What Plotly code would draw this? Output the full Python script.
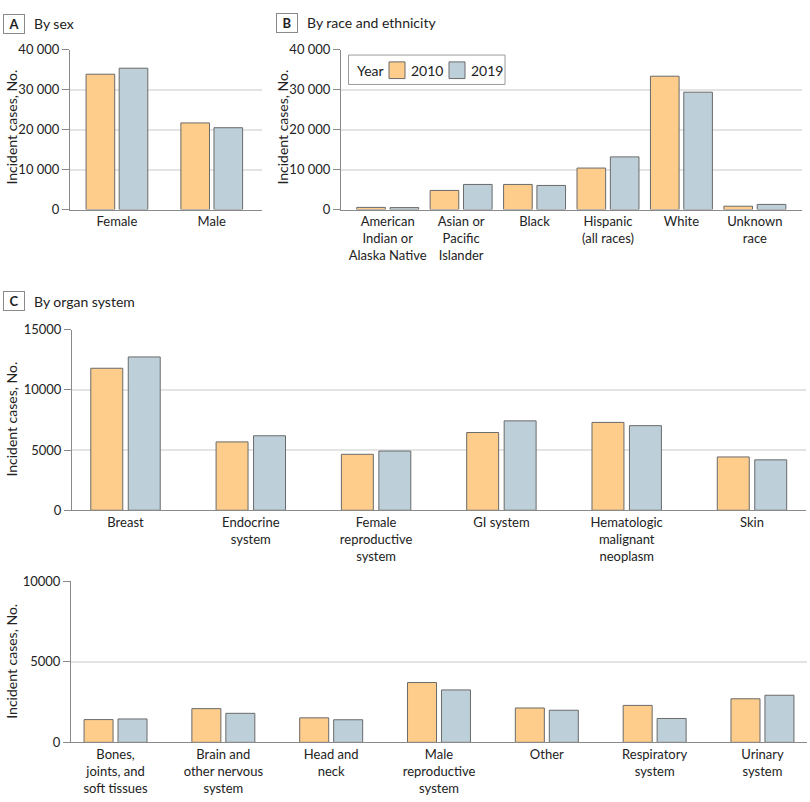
import plotly.graph_objects as go

# ---------------- data ----------------
years = ["2010", "2019"]

sex_categories = ["Female", "Male"]
sex_2010 = [33900, 21700]
sex_2019 = [35400, 20500]

race_categories = ["American<br>Indian or<br>Alaska Native", "Asian or<br>Pacific<br>Islander", "Black",
                   "Hispanic<br>(all races)", "White", "Unknown<br>race"]
race_2010 = [550, 4800, 6300, 10400, 33400, 850]
race_2019 = [500, 6300, 6050, 13200, 29400, 1300]

organ1_categories = ["Breast", "Endocrine<br>system", "Female<br>reproductive<br>system", "GI system",
                     "Hematologic<br>malignant<br>neoplasm", "Skin"]
organ1_2010 = [11800, 5680, 4650, 6460, 7300, 4430]
organ1_2019 = [12740, 6190, 4920, 7430, 7030, 4190]

organ2_categories = ["Bones,<br>joints, and<br>soft tissues", "Brain and<br>other nervous<br>system", "Head and<br>neck",
                     "Male<br>reproductive<br>system", "Other", "Respiratory<br>system", "Urinary<br>system"]
organ2_2010 = [1410, 2090, 1520, 3710, 2130, 2290, 2700]
organ2_2019 = [1450, 1800, 1400, 3250, 1990, 1480, 2920]

ab_tickvals = [0, 10000, 20000, 30000, 40000]
ab_ticktext = ["0", "10 000", "20 000", "30 000", "40 000"]
c_tickvals = [0, 5000, 10000, 15000]
c_ticktext = ["0", "5000", "10000", "15000"]
d_tickvals = [0, 5000, 10000]
d_ticktext = ["0", "5000", "10000"]

# ---------------- style ----------------
FONT = "Lato, 'Noto Sans', sans-serif"
C2010 = "#FECD8C"
C2019 = "#BDD0DA"
OUTLINE = "#6A6A6A"
GRID = "#E4E4E4"
AXIS = "#8A8A8A"
TXT = "#222222"
W, H = 810, 802


def px_x(p):
    return p / W


def px_y(p):
    return 1 - p / H


fig = go.Figure()

panels = [
    # (x categories, v2010, v2019, axis suffix, bar width, gap)
    (sex_categories, sex_2010, sex_2019, "", 0.302, 0.047),
    (race_categories, race_2010, race_2019, "2", 0.39, 0.064),
    (organ1_categories, organ1_2010, organ1_2019, "3", 0.255, 0.044),
    (organ2_categories, organ2_2010, organ2_2019, "4", 0.269, 0.046),
]

for cats, v10, v19, sfx, bw, gap in panels:
    for yr, vals, col, off in [("2010", v10, C2010, -(bw + gap / 2)), ("2019", v19, C2019, gap / 2)]:
        fig.add_trace(go.Bar(
            x=cats, y=vals, name=yr, legendgroup=yr, showlegend=False,
            marker=dict(color=col, line=dict(color=OUTLINE, width=1)),
            width=bw, offset=off,
            xaxis="x" + sfx, yaxis="y" + sfx,
        ))

common_x = dict(type="category", showgrid=False, showline=True, linecolor=AXIS, linewidth=1,
                ticks="", tickfont=dict(family=FONT, size=13, color=TXT), fixedrange=True)
common_y = dict(showgrid=True, gridcolor=GRID, gridwidth=1.5, showline=True, linecolor=AXIS, linewidth=1,
                ticks="outside", ticklen=7, tickcolor=AXIS, zeroline=False,
                tickfont=dict(family=FONT, size=13, color=TXT), fixedrange=True)

fig.update_layout(
    width=W, height=H,
    margin=dict(l=0, r=0, t=0, b=0),
    paper_bgcolor="white", plot_bgcolor="white",
    barmode="group", showlegend=False,
    font=dict(family=FONT, size=13, color=TXT),
    xaxis=dict(common_x, domain=[px_x(70), px_x(262)], range=[-0.495, 1.53], anchor="y"),
    yaxis=dict(common_y, domain=[px_y(205.7), px_y(42.7)], range=[0, 40000],
               tickvals=ab_tickvals, ticktext=ab_ticktext, anchor="x"),
    xaxis2=dict(common_x, domain=[px_x(341), px_x(802)], range=[-0.636, 5.642], anchor="y2"),
    yaxis2=dict(common_y, domain=[px_y(205.7), px_y(42.7)], range=[0, 40000],
                tickvals=ab_tickvals, ticktext=ab_ticktext, anchor="x2"),
    xaxis3=dict(common_x, domain=[px_x(72), px_x(806)], range=[-0.427, 5.431], anchor="y3"),
    yaxis3=dict(common_y, domain=[px_y(512.5), px_y(328.3)], range=[0, 15000],
                tickvals=c_tickvals, ticktext=c_ticktext, anchor="x3"),
    xaxis4=dict(common_x, domain=[px_x(71), px_x(807)], range=[-0.413, 6.413], anchor="y4"),
    yaxis4=dict(common_y, domain=[px_y(749.3), px_y(584.7)], range=[0, 10000],
                tickvals=d_tickvals, ticktext=d_ticktext, anchor="x4"),
)

annotations = []
shapes = []
# panel labels
for letter, title, bx, ty in [("A", "By sex", 14, 16), ("B", "By race and ethnicity", 287, 15),
                              ("C", "By organ system", 14, 299)]:
    annotations.append(dict(text="<b>" + letter + "</b>", x=px_x(bx), y=px_y(ty), xref="paper", yref="paper",
                            showarrow=False, font=dict(family=FONT, size=13, color=TXT),
                            bordercolor="#8A8A8A", borderwidth=1, borderpad=2, bgcolor="white",
                            width=16, height=14, xanchor="center", yanchor="middle"))
    annotations.append(dict(text=title, x=px_x(bx + 18), y=px_y(ty), xref="paper", yref="paper",
                            showarrow=False, font=dict(family=FONT, size=14, color=TXT),
                            xanchor="left", yanchor="middle"))

# y-axis titles
for xc, yc in [(12, 122), (283, 122), (12, 420), (12, 667)]:
    annotations.append(dict(text="Incident cases, No.", x=px_x(xc), y=px_y(yc), xref="paper", yref="paper",
                            showarrow=False, textangle=-90, font=dict(family=FONT, size=14, color=TXT),
                            xanchor="center", yanchor="middle"))

# legend (drawn as a boxed key inside panel B)
shapes.append(dict(type="rect", xref="paper", yref="paper", x0=px_x(348.5), x1=px_x(505), y0=px_y(78),
                   y1=px_y(48), line=dict(color="#9A9A9A", width=1), fillcolor="white", layer="above"))
annotations.append(dict(text="Year", x=px_x(355), y=px_y(63.5), xref="paper", yref="paper", showarrow=False,
                        font=dict(family=FONT, size=14, color=TXT), xanchor="left", yanchor="middle"))
for yr, col, sx in [(years[0], C2010, 389), (years[1], C2019, 449)]:
    shapes.append(dict(type="rect", xref="paper", yref="paper", x0=px_x(sx), x1=px_x(sx + 16), y0=px_y(72),
                       y1=px_y(55), line=dict(color=OUTLINE, width=1), fillcolor=col, layer="above"))
    annotations.append(dict(text=yr, x=px_x(sx + 20), y=px_y(63.5), xref="paper", yref="paper", showarrow=False,
                            font=dict(family=FONT, size=14, color=TXT), xanchor="left", yanchor="middle"))

fig.update_layout(annotations=annotations, shapes=shapes)

fig.write_html("out.html", config={"displayModeBar": False, "staticPlot": False},
               post_script="document.body.style.margin='0px';document.body.style.overflow='hidden';")
